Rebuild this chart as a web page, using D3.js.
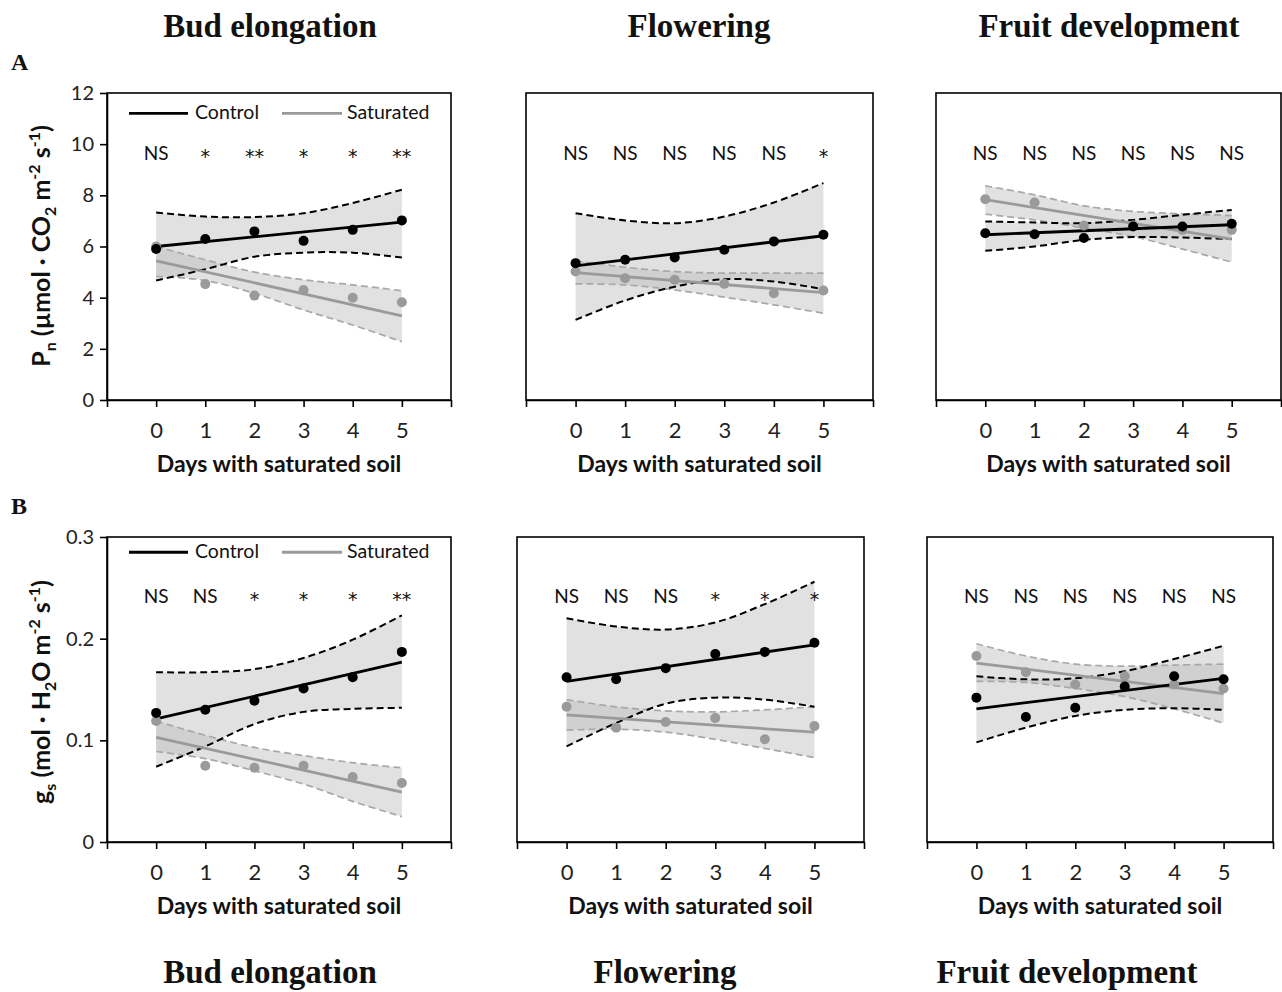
<!DOCTYPE html>
<html lang="en">
<head>
<meta charset="utf-8">
<title>Pn and gs, saturated soil</title>
<script src="https://d3js.org/d3.v7.min.js"></script>
<style>
  body { margin: 0; background: #fff; }
  text { font-family: Lato, "Open Sans", sans-serif; fill: #111; }
  .title { font-family: "Liberation Serif", "Times New Roman", serif; font-weight: bold; }
  .tick text { font-family: Lato, "Open Sans", sans-serif; fill: #222; }
  .star { font-family: "DejaVu Sans", sans-serif; }
</style>
</head>
<body>
<div id="chart"></div>
<script>
// ---------------- data ----------------
var days = [0, 1, 2, 3, 4, 5];
var xTicks = [-1, 0, 1, 2, 3, 4, 5, 6];
var stages = ["Bud elongation", "Flowering", "Fruit development"];
var yTicksPn = [0, 2, 4, 6, 8, 10, 12];
var yTicksGs = [0, 0.1, 0.2, 0.3];

// Pn, one row per stage
var pnCtrlPts = [[5.9, 6.29, 6.59, 6.22, 6.65, 7.02], [5.35, 5.48, 5.57, 5.87, 6.2, 6.46], [6.52, 6.48, 6.33, 6.78, 6.78, 6.89]];
var pnCtrlFit = [[6.0, 6.95], [5.24, 6.42], [6.46, 6.85]];
var pnCtrlUp = [[7.33, 7.17, 7.15, 7.3, 7.7, 8.22], [7.3, 7.02, 6.91, 7.17, 7.72, 8.48], [6.98, 6.94, 6.91, 7.04, 7.24, 7.43]];
var pnCtrlLo = [[4.67, 5.11, 5.6, 5.76, 5.76, 5.57], [3.13, 3.89, 4.43, 4.72, 4.63, 4.33], [5.83, 6.0, 6.26, 6.37, 6.35, 6.29]];
var pnSatPts = [[6.0, 4.53, 4.08, 4.3, 4.0, 3.82], [5.02, 4.76, 4.7, 4.54, 4.17, 4.28], [7.85, 7.72, 6.82, 6.82, 6.65, 6.65]];
var pnSatFit = [[5.44, 3.29], [4.98, 4.2], [7.83, 6.29]];
var pnSatUp = [[6.0, 5.48, 5.0, 4.7, 4.5, 4.27], [5.44, 5.19, 5.02, 4.96, 4.96, 4.96], [8.37, 8.02, 7.59, 7.37, 7.28, 7.21]];
var pnSatLo = [[4.83, 4.67, 4.17, 3.52, 2.93, 2.28], [4.54, 4.5, 4.3, 4.02, 3.72, 3.39], [7.26, 7.04, 6.72, 6.39, 5.9, 5.39]];
var pnSig = [["NS", "*", "**", "*", "*", "**"], ["NS", "NS", "NS", "NS", "NS", "*"], ["NS", "NS", "NS", "NS", "NS", "NS"]];

// gs, one row per stage
var gsCtrlPts = [[0.127, 0.130, 0.139, 0.151, 0.162, 0.187], [0.162, 0.160, 0.171, 0.185, 0.187, 0.196], [0.142, 0.123, 0.132, 0.153, 0.163, 0.160]];
var gsCtrlFit = [[0.121, 0.177], [0.158, 0.194], [0.131, 0.161]];
var gsCtrlUp = [[0.167, 0.167, 0.170, 0.181, 0.199, 0.223], [0.220, 0.212, 0.209, 0.216, 0.234, 0.256], [0.163, 0.160, 0.161, 0.168, 0.180, 0.193]];
var gsCtrlLo = [[0.074, 0.094, 0.116, 0.128, 0.131, 0.132], [0.094, 0.117, 0.136, 0.142, 0.140, 0.133], [0.098, 0.1125, 0.124, 0.130, 0.1316, 0.130]];
var gsSatPts = [[0.119, 0.075, 0.073, 0.075, 0.064, 0.058], [0.133, 0.1125, 0.118, 0.122, 0.101, 0.114], [0.183, 0.167, 0.155, 0.163, 0.155, 0.151]];
var gsSatFit = [[0.103, 0.049], [0.125, 0.108], [0.176, 0.146]];
var gsSatUp = [[0.119, 0.105, 0.093, 0.085, 0.078, 0.073], [0.140, 0.133, 0.129, 0.128, 0.130, 0.133], [0.195, 0.183, 0.175, 0.173, 0.174, 0.175]];
var gsSatLo = [[0.089, 0.082, 0.070, 0.057, 0.040, 0.025], [0.110, 0.111, 0.108, 0.101, 0.092, 0.083], [0.158, 0.157, 0.151, 0.143, 0.131, 0.117]];
var gsSig = [["NS", "NS", "*", "*", "*", "**"], ["NS", "NS", "NS", "*", "*", "*"], ["NS", "NS", "NS", "NS", "NS", "NS"]];

// ---------------- layout ----------------
var W = 1282, H = 992;
var svg = d3.select("#chart").append("svg")
    .attr("width", W)
    .attr("height", H);

var grey = "#9a9a9a";
var greyDash = "#a8a8a8";

var rows = [
  { top: 93, bottom: 400, cols: [[107, 451], [526, 873], [936, 1281]], domain: [0, 12], ticks: yTicksPn,
    fmt: function(d) { return d; }, sigAt: 9.4, legAt: 11.2,
    ctrlPts: pnCtrlPts, ctrlFit: pnCtrlFit, ctrlUp: pnCtrlUp, ctrlLo: pnCtrlLo,
    satPts: pnSatPts, satFit: pnSatFit, satUp: pnSatUp, satLo: pnSatLo, sig: pnSig },
  { top: 537, bottom: 842, cols: [[107, 451], [517, 864], [927, 1273]], domain: [0, 0.3], ticks: yTicksGs,
    fmt: function(d) { return d === 0 ? "0" : d.toFixed(1); }, sigAt: 0.235, legAt: 0.285,
    ctrlPts: gsCtrlPts, ctrlFit: gsCtrlFit, ctrlUp: gsCtrlUp, ctrlLo: gsCtrlLo,
    satPts: gsSatPts, satFit: gsSatFit, satUp: gsSatUp, satLo: gsSatLo, sig: gsSig }
];

function drawPanel(row, c) {
  var x = d3.scaleLinear().domain([-1, 6]).range(row.cols[c]);
  var y = d3.scaleLinear().domain(row.domain).range([row.bottom, row.top]);
  var g = svg.append("g");

  // box
  g.append("rect")
    .attr("x", x(-1)).attr("y", y(row.domain[1]))
    .attr("width", x(6) - x(-1)).attr("height", y(0) - y(row.domain[1]))
    .attr("fill", "none").attr("stroke", "#000").attr("stroke-width", 1.6);

  // confidence bands
  var band = function(up, lo) {
    return d3.area()
      .x(function(d) { return x(d); })
      .y0(function(d, i) { return y(lo[i]); })
      .y1(function(d, i) { return y(up[i]); })
      .curve(d3.curveCatmullRom)(days);
  };
  g.append("path").attr("d", band(row.ctrlUp[c], row.ctrlLo[c]))
    .attr("fill", "#bdbdbd").attr("fill-opacity", 0.45);
  g.append("path").attr("d", band(row.satUp[c], row.satLo[c]))
    .attr("fill", "#bdbdbd").attr("fill-opacity", 0.45);

  var curve = function(vals) {
    return d3.line()
      .x(function(d) { return x(d); })
      .y(function(d, i) { return y(vals[i]); })
      .curve(d3.curveCatmullRom)(days);
  };
  [row.satUp[c], row.satLo[c]].forEach(function(v) {
    g.append("path").attr("d", curve(v)).attr("fill", "none")
      .attr("stroke", greyDash).attr("stroke-width", 1.7).attr("stroke-dasharray", "7,4");
  });
  [row.ctrlUp[c], row.ctrlLo[c]].forEach(function(v) {
    g.append("path").attr("d", curve(v)).attr("fill", "none")
      .attr("stroke", "#000").attr("stroke-width", 2).attr("stroke-dasharray", "7,4");
  });

  // fitted lines
  var fitLine = function(f, col) {
    g.append("line")
      .attr("x1", x(days[0])).attr("y1", y(f[0]))
      .attr("x2", x(days[days.length - 1])).attr("y2", y(f[1]))
      .attr("stroke", col).attr("stroke-width", 2.8);
  };
  fitLine(row.satFit[c], grey);
  fitLine(row.ctrlFit[c], "#000");

  // points
  g.selectAll(".sat").data(days).enter().append("circle")
    .attr("cx", function(d) { return x(d); })
    .attr("cy", function(d, i) { return y(row.satPts[c][i]); })
    .attr("r", 5).attr("fill", grey);
  g.selectAll(".ctrl").data(days).enter().append("circle")
    .attr("cx", function(d) { return x(d); })
    .attr("cy", function(d, i) { return y(row.ctrlPts[c][i]); })
    .attr("r", 5).attr("fill", "#000");

  // significance labels
  g.selectAll(".sig").data(days).enter().append("text")
    .attr("class", function(d, i) { return row.sig[c][i] === "NS" ? "ns" : "star"; })
    .attr("x", function(d) { return x(d); })
    .attr("y", function(d, i) { return y(row.sigAt) + (row.sig[c][i] === "NS" ? 0 : 3); })
    .attr("text-anchor", "middle")
    .style("font-size", function(d, i) { return row.sig[c][i] === "NS" ? "19px" : "19px"; })
    .text(function(d, i) { return row.sig[c][i]; });

  // x axis
  var xa = g.append("g")
    .attr("transform", "translate(0," + row.bottom + ")")
    .call(d3.axisBottom(x).tickValues(xTicks).tickSize(7).tickSizeOuter(0).tickPadding(15)
      .tickFormat(function(d) { return d >= 0 && d <= 5 ? d : ""; }));
  xa.select(".domain").attr("stroke-width", 1.6);
  xa.selectAll(".tick line").attr("stroke-width", 1.6);
  xa.selectAll(".tick text").style("font-size", "22px");

  svg.append("text")
    .attr("x", x(2.5))
    .attr("y", row.bottom + 72)
    .attr("text-anchor", "middle")
    .style("font-size", "23px")
    .style("font-weight", "bold")
    .text("Days with saturated soil");

  if (c === 0) {
    var ya = g.append("g")
      .attr("transform", "translate(" + x(-1) + ",0)")
      .call(d3.axisLeft(y).tickValues(row.ticks).tickSize(7).tickSizeOuter(0).tickPadding(6).tickFormat(row.fmt));
    ya.select(".domain").attr("stroke-width", 1.6);
    ya.selectAll(".tick line").attr("stroke-width", 1.6);
    ya.selectAll(".tick text").style("font-size", "20px");

    // legend
    var ly = y(row.legAt);
    g.append("line").attr("x1", 129).attr("x2", 188).attr("y1", ly).attr("y2", ly)
      .attr("stroke", "#000").attr("stroke-width", 2.8);
    g.append("text").attr("x", 195).attr("y", ly + 6).style("font-size", "19.5px").text("Control");
    g.append("line").attr("x1", 282).attr("x2", 342).attr("y1", ly).attr("y2", ly)
      .attr("stroke", grey).attr("stroke-width", 2.8);
    g.append("text").attr("x", 347).attr("y", ly + 6).style("font-size", "19.5px").text("Saturated");
  }
}

rows.forEach(function(row) {
  [0, 1, 2].forEach(function(c) { drawPanel(row, c); });
});

// y axis titles
function yTitle(cy, parts) {
  var t = svg.append("text")
    .attr("transform", "translate(50," + cy + ") rotate(-90)")
    .attr("text-anchor", "middle")
    .style("font-size", "25px")
    .style("font-weight", "bold");
  parts.forEach(function(p) {
    var s = t.append("tspan").text(p[0]);
    if (p[1] === "sub") s.attr("dy", 6).style("font-size", "16px");
    if (p[1] === "sup") s.attr("dy", -10).style("font-size", "16px");
    if (p[1] === "back-sub") s.attr("dy", -6);
    if (p[1] === "back-sup") s.attr("dy", 10);
  });
}
yTitle(246, [["P"], ["n", "sub"], [" (µmol · CO", "back-sub"], ["2", "sub"], [" m", "back-sub"],
  ["-2", "sup"], [" s", "back-sup"], ["-1", "sup"], [")", "back-sup"]]);
yTitle(692, [["g"], ["s", "sub"], [" (mol · H", "back-sub"], ["2", "sub"], ["O m", "back-sub"],
  ["-2", "sup"], [" s", "back-sup"], ["-1", "sup"], [")", "back-sup"]]);

// stage titles and panel letters
var titleX = [[270, 699, 1109], [270, 665, 1067]];
var titleY = [37, 983];
titleX.forEach(function(xs, r) {
  svg.selectAll(null).data(stages).enter().append("text")
    .attr("class", "title")
    .attr("x", function(d, i) { return xs[i]; })
    .attr("y", titleY[r])
    .attr("text-anchor", "middle")
    .style("font-size", "33px")
    .text(function(d) { return d; });
});
svg.append("text").attr("class", "title").attr("x", 11).attr("y", 70).style("font-size", "24px").text("A");
svg.append("text").attr("class", "title").attr("x", 11).attr("y", 514).style("font-size", "24px").text("B");
</script>
</body>
</html>
